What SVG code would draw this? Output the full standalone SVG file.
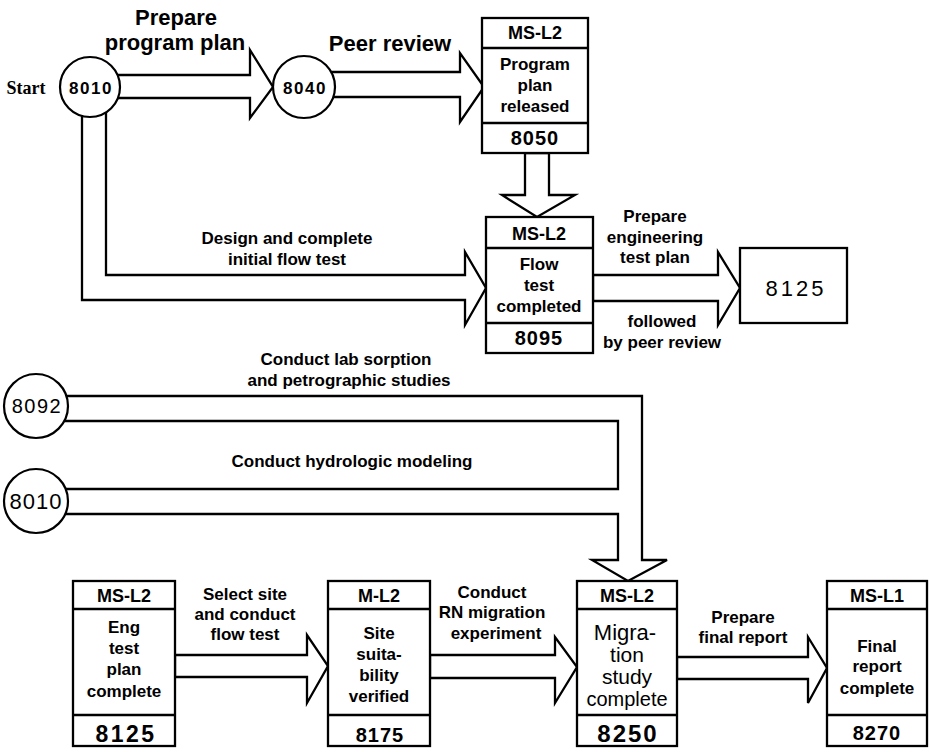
<svg xmlns="http://www.w3.org/2000/svg" width="930" height="752" viewBox="0 0 930 752">
<style>
.ar{fill:#fff;stroke:#000;stroke-width:2.3;stroke-linejoin:miter}
.bx{fill:#fff;stroke:#000;stroke-width:2.3}
.dv{stroke:#000;stroke-width:2.3}
.ci{fill:#fff;stroke:#000;stroke-width:2.2}
text{font-family:"Liberation Sans",Arial,sans-serif;font-weight:bold;fill:#000;text-anchor:middle}
.lb{font-size:17px}
.bt{font-size:17px}
.hd{font-size:18px}
.nm{font-size:20px;letter-spacing:1px}
.big{font-size:22px}
.cn{font-size:17px;letter-spacing:1.5px}
.mg{font-size:21px;font-weight:normal}
</style>
<rect width="930" height="752" fill="#fff"/>
<g id="connectors">
<path class="ar" d="M112,75 H250 V50 L273,87 L250,118 V98 H112 Z"/>
<path class="ar" d="M325,72 H460 V53 L484,87 L460,122 V97 H325 Z"/>
<path class="ar" d="M525,153 V195 H502 L537,217 L575,195 H549 V153 Z"/>
<path class="ar" d="M82,100 V300 H465 V325 L486,288 L465,252 V275 H106 V100 Z"/>
<path class="ar" d="M593,275 H718 V252 L740,288 L718,325 V301 H593 Z"/>
<path class="ar" d="M55,396 H642 V560 H667 L628,581 L592,560 H618 V514 H55 V489 H618 V421 H55 Z"/>
<path class="ar" d="M175,655 H307 V635 L328,666 L307,703 V677 H175 Z"/>
<path class="ar" d="M430,655 H555 V637 L577,667 L555,703 V678 H430 Z"/>
<path class="ar" d="M677,657 H808 V637 L827,668 L808,703 V679 H677 Z"/>
<text class="big" x="176" y="25">Prepare</text>
<text class="big" x="175" y="50">program plan</text>
<text class="big" x="390" y="51">Peer review</text>
<text class="lb" x="287" y="244">Design and complete</text>
<text class="lb" x="287" y="265">initial flow test</text>
<text class="lb" x="655" y="222">Prepare</text>
<text class="lb" x="655" y="243">engineering</text>
<text class="lb" x="655" y="263">test plan</text>
<text class="lb" x="662" y="327">followed</text>
<text class="lb" x="662" y="348">by peer review</text>
<text class="lb" x="346" y="365">Conduct lab sorption</text>
<text class="lb" x="349" y="386">and petrographic studies</text>
<text class="lb" x="352" y="467">Conduct hydrologic modeling</text>
<text class="lb" x="245" y="600">Select site</text>
<text class="lb" x="245" y="620">and conduct</text>
<text class="lb" x="245" y="640">flow test</text>
<text class="lb" x="492" y="598">Conduct</text>
<text class="lb" x="492" y="618">RN migration</text>
<text class="lb" x="496" y="639">experiment</text>
<text class="lb" x="743" y="623">Prepare</text>
<text class="lb" x="743" y="643">final report</text>
</g>
<g id="start">
<text x="26" y="94" style="font-family:'Liberation Serif',serif;font-size:18px">Start</text>
</g>
<g id="n8010a"><circle class="ci" cx="90" cy="87" r="30"/><text class="cn" x="91" y="94">8010</text></g>
<g id="n8040"><circle class="ci" cx="304" cy="87" r="31"/><text class="cn" x="305" y="94">8040</text></g>
<g id="n8092"><circle class="ci" cx="36" cy="406" r="32"/><text class="cn" x="37" y="413" style="font-weight:normal;font-size:20px">8092</text></g>
<g id="n8010b"><circle class="ci" cx="36" cy="501" r="32"/><text class="cn" x="36" y="509" style="font-weight:normal;font-size:22px;letter-spacing:1px">8010</text></g>
<g id="n8050">
<rect class="bx" x="482" y="18" width="106" height="135"/>
<line class="dv" x1="482" y1="48" x2="588" y2="48"/><line class="dv" x1="482" y1="123" x2="588" y2="123"/>
<text class="hd" x="535" y="39">MS-L2</text>
<text class="bt" x="535" y="70">Program</text>
<text class="bt" x="535" y="91">plan</text>
<text class="bt" x="535" y="112">released</text>
<text class="nm" x="535" y="145">8050</text>
</g>
<g id="n8095">
<rect class="bx" x="486" y="217" width="107" height="136"/>
<line class="dv" x1="486" y1="248" x2="593" y2="248"/><line class="dv" x1="486" y1="323" x2="593" y2="323"/>
<text class="hd" x="539" y="240">MS-L2</text>
<text class="bt" x="539" y="270">Flow</text>
<text class="bt" x="539" y="291">test</text>
<text class="bt" x="539" y="312">completed</text>
<text class="nm" x="539" y="345">8095</text>
</g>
<g id="n8125top">
<rect class="bx" x="740" y="248" width="107" height="75"/>
<text x="796" y="296" style="font-size:22px;font-weight:normal;letter-spacing:3px">8125</text>
</g>
<g id="n8125">
<rect class="bx" x="73" y="581" width="102" height="165"/>
<line class="dv" x1="73" y1="609" x2="175" y2="609"/><line class="dv" x1="73" y1="715" x2="175" y2="715"/>
<text class="hd" x="124" y="602">MS-L2</text>
<text class="bt" x="124" y="633">Eng</text>
<text class="bt" x="124" y="654">test</text>
<text class="bt" x="124" y="675">plan</text>
<text class="bt" x="124" y="697">complete</text>
<text x="126" y="742" style="font-size:23px;letter-spacing:2.5px">8125</text>
</g>
<g id="n8175">
<rect class="bx" x="328" y="581" width="102" height="165"/>
<line class="dv" x1="328" y1="609" x2="430" y2="609"/><line class="dv" x1="328" y1="715" x2="430" y2="715"/>
<text class="hd" x="379" y="602">M-L2</text>
<text class="bt" x="379" y="639">Site</text>
<text class="bt" x="379" y="660">suita-</text>
<text class="bt" x="379" y="681">bility</text>
<text class="bt" x="379" y="702">verified</text>
<text class="nm" x="380" y="742">8175</text>
</g>
<g id="n8250">
<rect class="bx" x="577" y="581" width="100" height="165"/>
<line class="dv" x1="577" y1="609" x2="677" y2="609"/><line class="dv" x1="577" y1="715" x2="677" y2="715"/>
<text class="hd" x="627" y="602">MS-L2</text>
<text class="mg" x="625" y="640" style="font-size:22px">Migra-</text>
<text class="mg" x="627" y="662">tion</text>
<text class="mg" x="627" y="684">study</text>
<text class="mg" x="627" y="706" style="font-size:20px">complete</text>
<text x="628" y="742" style="font-size:24px;letter-spacing:2px">8250</text>
</g>
<g id="n8270">
<rect class="bx" x="827" y="581" width="100" height="165"/>
<line class="dv" x1="827" y1="609" x2="927" y2="609"/><line class="dv" x1="827" y1="715" x2="927" y2="715"/>
<text class="hd" x="877" y="602">MS-L1</text>
<text class="bt" x="877" y="652">Final</text>
<text class="bt" x="877" y="672">report</text>
<text class="bt" x="877" y="694">complete</text>
<text class="nm" x="877" y="740">8270</text>
</g>
</svg>
